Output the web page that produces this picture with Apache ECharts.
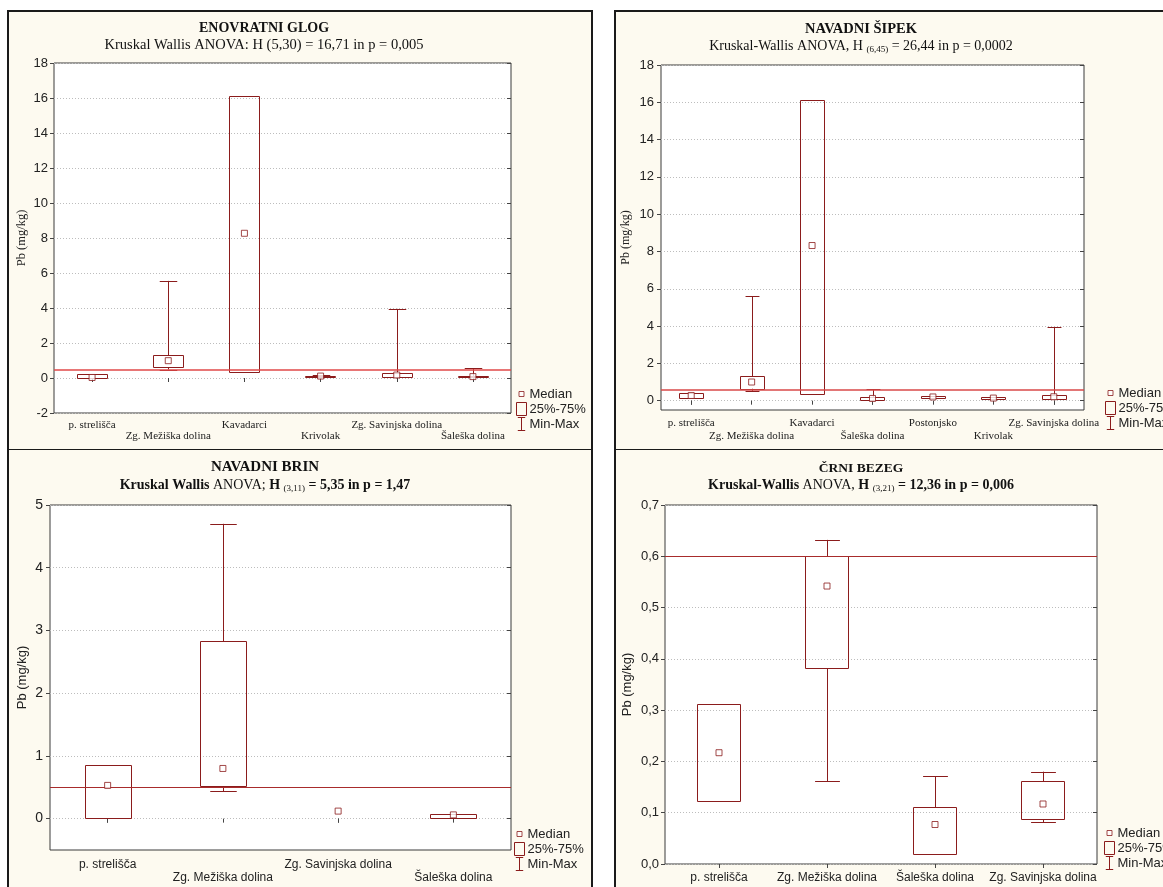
<!DOCTYPE html>
<html>
<head>
<meta charset="utf-8">
<script src="https://cdn.jsdelivr.net/npm/echarts@6/dist/echarts.min.js"></script>
<style>
  html, body { margin: 0; padding: 0; background: #fff; width: 1163px; height: 887px; overflow: hidden; }
  .panel { position: absolute; box-sizing: border-box; background: #fdfaf0; border: 2px solid #1a1a1a; }
  #p1 { left: 7px; top: 10px; width: 586px; height: 441px; }
  #p2 { left: 614px; top: 10px; width: 560px; height: 441px; }
  #p3 { left: 7px; top: 450px; width: 586px; height: 450px; border-top: none; }
  #p4 { left: 614px; top: 450px; width: 560px; height: 450px; border-top: none; }
</style>
</head>
<body>
<div id="p1" class="panel"></div>
<div id="p2" class="panel"></div>
<div id="p3" class="panel"></div>
<div id="p4" class="panel"></div>
<script>
// ENOVRATNI GLOG
const glogCategories = ['p. strelišča', 'Zg. Mežiška dolina', 'Kavadarci', 'Krivolak', 'Zg. Savinjska dolina', 'Šaleška dolina'];
const glogMin = [0.0, 0.48, 0.38, 0.07, 0.07, 0.03];
const glogQ1 = [0.0, 0.61, 0.38, 0.08, 0.08, 0.04];
const glogMedian = [0.03, 0.99, 8.27, 0.11, 0.17, 0.08];
const glogQ3 = [0.25, 1.29, 16.14, 0.14, 0.29, 0.10];
const glogMax = [0.25, 5.55, 16.14, 0.15, 3.95, 0.55];
const glogLimit = 0.5;
const glogTicks = [-2, 0, 2, 4, 6, 8, 10, 12, 14, 16, 18];

// NAVADNI ŠIPEK
const sipekCategories = ['p. strelišča', 'Zg. Mežiška dolina', 'Kavadarci', 'Šaleška dolina', 'Postonjsko', 'Krivolak', 'Zg. Savinjska dolina'];
const sipekMin = [0.14, 0.50, 0.39, 0.03, 0.12, 0.08, 0.07];
const sipekQ1 = [0.14, 0.64, 0.39, 0.05, 0.13, 0.09, 0.10];
const sipekMedian = [0.28, 1.00, 8.32, 0.12, 0.20, 0.14, 0.21];
const sipekQ3 = [0.43, 1.32, 16.14, 0.20, 0.24, 0.18, 0.32];
const sipekMax = [0.43, 5.59, 16.14, 0.60, 0.25, 0.20, 3.95];
const sipekLimit = 0.6;
const sipekTicks = [0, 2, 4, 6, 8, 10, 12, 14, 16, 18];

// NAVADNI BRIN
const brinCategories = ['p. strelišča', 'Zg. Mežiška dolina', 'Zg. Savinjska dolina', 'Šaleška dolina'];
const brinMin = [0.0, 0.44, 0.12, 0.01];
const brinQ1 = [0.0, 0.52, 0.12, 0.01];
const brinMedian = [0.53, 0.80, 0.12, 0.06];
const brinQ3 = [0.85, 2.83, 0.12, 0.07];
const brinMax = [0.85, 4.70, 0.12, 0.07];
const brinLimit = 0.5;
const brinTicks = [0, 1, 2, 3, 4, 5];

// ČRNI BEZEG
const bezegCategories = ['p. strelišča', 'Zg. Mežiška dolina', 'Šaleška dolina', 'Zg. Savinjska dolina'];
const bezegMin = [0.122, 0.161, 0.020, 0.081];
const bezegQ1 = [0.122, 0.381, 0.020, 0.086];
const bezegMedian = [0.217, 0.542, 0.077, 0.117];
const bezegQ3 = [0.312, 0.600, 0.111, 0.161];
const bezegMax = [0.312, 0.632, 0.171, 0.180];
const bezegLimit = 0.6;
const bezegTicks = [0, 0.1, 0.2, 0.3, 0.4, 0.5, 0.6, 0.7];

const SERIF = "'Liberation Serif', 'Times New Roman', serif";
const SANS = "'Liberation Sans', Arial, sans-serif";
const NARROW = "'Liberation Sans Narrow', 'Liberation Sans', Arial, sans-serif";
const BOX = '#8b1c1c';
const BOX_FRAC = 0.4;
const CAP_FRAC = 0.23;

function renderBox(params, api) {
  if (api.value(1) === api.value(2)) return null;
  const x = api.value(0);
  const lo = api.coord([x, api.value(1)]);
  const hi = api.coord([x, api.value(2)]);
  const w = api.size([1, 0])[0] * BOX_FRAC;
  return {
    type: 'rect',
    shape: { x: Math.round(lo[0] - w / 2) + 0.5, y: Math.round(hi[1]) + 0.5, width: Math.round(w), height: Math.max(1, Math.round(lo[1] - hi[1])) },
    style: { fill: 'none', stroke: BOX, lineWidth: 1 }
  };
}

function renderWhisker(params, api) {
  const x = api.value(0);
  const pMin = api.coord([x, api.value(1)]);
  const pQ1 = api.coord([x, api.value(2)]);
  const pQ3 = api.coord([x, api.value(3)]);
  const pMax = api.coord([x, api.value(4)]);
  const half = api.size([1, 0])[0] * CAP_FRAC / 2;
  const cx = Math.round(pMin[0]) + 0.5;
  const style = { stroke: BOX, lineWidth: 1 };
  const kids = [];
  if (api.value(4) > api.value(3)) {
    kids.push({ type: 'line', shape: { x1: cx, y1: pQ3[1], x2: cx, y2: pMax[1] }, style });
    kids.push({ type: 'line', shape: { x1: cx - half, y1: Math.round(pMax[1]) + 0.5, x2: cx + half, y2: Math.round(pMax[1]) + 0.5 }, style });
  }
  if (api.value(1) < api.value(2)) {
    kids.push({ type: 'line', shape: { x1: cx, y1: pQ1[1], x2: cx, y2: pMin[1] }, style });
    kids.push({ type: 'line', shape: { x1: cx - half, y1: Math.round(pMin[1]) + 0.5, x2: cx + half, y2: Math.round(pMin[1]) + 0.5 }, style });
  }
  return { type: 'group', children: kids };
}

function boxChart(id, d, lay) {
  const chart = echarts.init(document.getElementById(id));
  const boxRows = d.cats.map((c, i) => [i, d.q1[i], d.q3[i]]);
  const whiskerRows = d.cats.map((c, i) => [i, d.min[i], d.q1[i], d.q3[i], d.max[i]]);
  const fmt = lay.fmt || (v => String(v));
  const yCommon = { type: 'value', min: lay.yMin, max: lay.yMax };

  chart.setOption({
    animation: false,
    title: [
      {
        text: lay.title, left: lay.titleX, top: lay.titleTop, textAlign: 'center', padding: 0,
        textStyle: { fontFamily: SERIF, fontWeight: 'bold', fontSize: lay.titleSize, color: '#111' }
      },
      {
        text: lay.subtitle, left: lay.titleX, top: lay.subTop, textAlign: 'center', padding: 0,
        textStyle: {
          fontFamily: SERIF, fontWeight: 'normal', fontSize: lay.subSize, color: '#111',
          rich: {
            b: { fontFamily: SERIF, fontSize: lay.subSize, fontWeight: 'bold', color: '#111' },
            sub: { fontFamily: SERIF, fontSize: 9, color: '#111', padding: [7, 0, 0, 0] }
          }
        }
      }
    ],
    legend: {
      orient: 'vertical', left: lay.legendX, top: lay.legendY, padding: 0,
      itemWidth: 10, itemHeight: 13, itemGap: 1, selectedMode: false,
      textStyle: { fontFamily: SANS, fontSize: 13, color: '#222', padding: [0, 0, 0, -2] },
      data: [
        { name: 'Median', icon: 'path://M0,0M10,13M2.5,4H7.5V9H2.5Z', itemStyle: { color: '#fff', borderColor: BOX, borderWidth: 1 } },
        { name: '25%-75%', icon: 'rect', itemStyle: { color: 'transparent', borderColor: BOX, borderWidth: 1 } },
        { name: 'Min-Max', icon: 'path://M0,0H8M4,0V14M0,14H8', itemStyle: { color: 'transparent', borderColor: BOX, borderWidth: 1 } }
      ]
    },
    grid: {
      left: lay.grid[0], top: lay.grid[1], width: lay.grid[2], height: lay.grid[3],
      show: true, backgroundColor: '#fff', borderColor: '#3a3a3a', borderWidth: 1,
      containLabel: false, outerBoundsMode: 'none'
    },
    xAxis: [
      {
        type: 'category', data: d.cats, position: 'bottom',
        axisLine: { show: false },
        axisTick: { show: true, alignWithLabel: true, length: 4, lineStyle: { color: '#444' } },
        axisLabel: {
          interval: 0, hideOverlap: false, margin: lay.xMargin,
          fontFamily: lay.xFont, fontSize: lay.xSize, color: '#222', lineHeight: lay.xLine,
          formatter: (v, i) => (lay.twoRows && i % 2 === 1 ? '\n' + v : v)
        },
        splitLine: { show: false }
      },
      {
        type: 'category', data: d.cats, position: 'top',
        axisLine: { show: false }, axisLabel: { show: false },
        axisTick: { show: true, inside: true, alignWithLabel: true, length: 4, lineStyle: { color: '#444' } },
        splitLine: { show: false }
      }
    ],
    yAxis: [
      Object.assign({}, yCommon, {
        position: 'left',
        name: 'Pb (mg/kg)', nameLocation: 'middle', nameGap: lay.nameGap, nameRotate: 90,
        nameMoveOverlap: false,
        nameTextStyle: { fontFamily: lay.nameFont, fontSize: lay.nameSize, color: '#222' },
        axisLine: { show: false },
        axisTick: { show: true, length: 4, customValues: d.ticks, lineStyle: { color: '#444' } },
        axisLabel: { customValues: d.ticks, margin: lay.yMargin, fontFamily: lay.yFont, fontSize: lay.ySize, color: '#222', formatter: fmt },
        splitLine: { show: true, lineStyle: { color: '#bdbdbd', type: [1, 2], width: 1 } }
      }),
      Object.assign({}, yCommon, {
        position: 'right',
        axisLine: { show: false }, axisLabel: { show: false, customValues: d.ticks },
        axisTick: { show: true, inside: true, length: 4, customValues: d.ticks, lineStyle: { color: '#444' } },
        splitLine: { show: false }
      })
    ],
    series: [
      {
        name: '25%-75%', type: 'custom', renderItem: renderBox, data: boxRows,
        encode: { x: 0, y: [1, 2] }, itemStyle: { color: 'transparent', borderColor: BOX }, z: 3,
        markLine: {
          silent: true, symbol: ['none', 'none'], label: { show: false },
          lineStyle: { color: lay.limitColor, width: lay.limitWidth, type: 'solid' },
          emphasis: { disabled: true },
          data: [{ yAxis: d.limit }]
        }
      },
      {
        name: 'Min-Max', type: 'custom', renderItem: renderWhisker, data: whiskerRows,
        encode: { x: 0, y: [1, 2, 3, 4] }, itemStyle: { color: 'transparent', borderColor: BOX }, z: 3
      },
      {
        name: 'Median', type: 'scatter', data: d.median, symbol: 'rect', symbolSize: 6,
        itemStyle: { color: '#fff', borderColor: BOX, borderWidth: 1 }, z: 5
      }
    ]
  });
  return chart;
}

boxChart('p1',
  { cats: glogCategories, min: glogMin, q1: glogQ1, median: glogMedian, q3: glogQ3, max: glogMax, limit: glogLimit, ticks: glogTicks },
  {
    title: 'ENOVRATNI GLOG', subtitle: 'Kruskal Wallis ANOVA: H (5,30) = 16,71 in p = 0,005',
    titleX: 255, titleTop: 9, subTop: 26, titleSize: 14, subSize: 14.5,
    grid: [45, 51, 457, 350], yMin: -2, yMax: 18,
    legendX: 507, legendY: 375,
    twoRows: true, xFont: SERIF, xSize: 11, xMargin: 7, xLine: 11,
    yFont: SANS, ySize: 13, yMargin: 6,
    nameFont: SERIF, nameSize: 12.5, nameGap: 26,
    limitColor: '#e04848', limitWidth: 1.5
  });

boxChart('p2',
  { cats: sipekCategories, min: sipekMin, q1: sipekQ1, median: sipekMedian, q3: sipekQ3, max: sipekMax, limit: sipekLimit, ticks: sipekTicks },
  {
    title: 'NAVADNI ŠIPEK', subtitle: 'Kruskal-Wallis ANOVA, H {sub|(6,45)} = 26,44 in p = 0,0002',
    titleX: 245, titleTop: 10, subTop: 26, titleSize: 14.5, subSize: 14,
    grid: [45, 53, 423, 345], yMin: -0.5, yMax: 18,
    legendX: 489, legendY: 374,
    twoRows: true, xFont: SERIF, xSize: 11, xMargin: 7, xLine: 13,
    yFont: NARROW, ySize: 13, yMargin: 7,
    nameFont: SERIF, nameSize: 12, nameGap: 29,
    limitColor: '#d84848', limitWidth: 1.5
  });

boxChart('p3',
  { cats: brinCategories, min: brinMin, q1: brinQ1, median: brinMedian, q3: brinQ3, max: brinMax, limit: brinLimit, ticks: brinTicks },
  {
    title: 'NAVADNI BRIN', subtitle: '{b|Kruskal Wallis} ANOVA; {b|H} {sub|(3,11)} {b|= 5,35 in p = 1,47}',
    titleX: 256, titleTop: 10, subTop: 27, titleSize: 15, subSize: 14,
    grid: [41, 55, 461, 345], yMin: -0.5, yMax: 5,
    legendX: 505, legendY: 377,
    twoRows: true, xFont: SANS, xSize: 12, xMargin: 8, xLine: 13,
    yFont: SANS, ySize: 14, yMargin: 7,
    nameFont: SANS, nameSize: 13, nameGap: 21,
    limitColor: '#a82c2c', limitWidth: 1
  });

boxChart('p4',
  { cats: bezegCategories, min: bezegMin, q1: bezegQ1, median: bezegMedian, q3: bezegQ3, max: bezegMax, limit: bezegLimit, ticks: bezegTicks },
  {
    title: 'ČRNI BEZEG', subtitle: '{b|Kruskal-Wallis} ANOVA, {b|H} {sub|(3,21)} {b|= 12,36 in p = 0,006}',
    titleX: 245, titleTop: 12, subTop: 27, titleSize: 13.5, subSize: 14,
    grid: [49, 55, 432, 359], yMin: 0, yMax: 0.7,
    legendX: 488, legendY: 376,
    twoRows: false, xFont: SANS, xSize: 12, xMargin: 7, xLine: 13,
    yFont: NARROW, ySize: 13, yMargin: 6,
    nameFont: SANS, nameSize: 13, nameGap: 31,
    limitColor: '#a82c2c', limitWidth: 1.2,
    fmt: v => v.toFixed(1).replace('.', ',')
  });
</script>
</body>
</html>
